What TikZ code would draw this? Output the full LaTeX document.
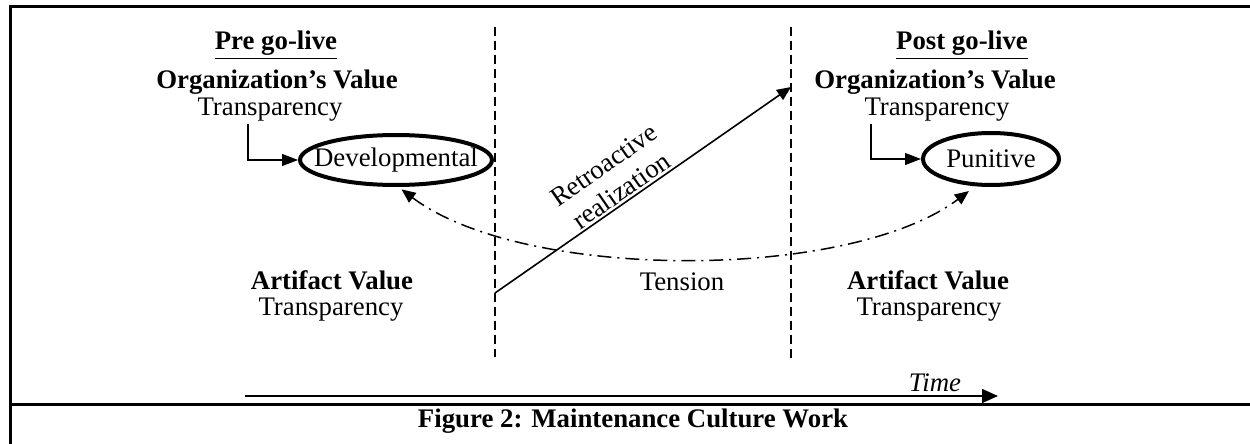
\documentclass[tikz,border=0pt]{standalone}
\usepackage{fontspec}
\setmainfont{Liberation Serif}
\usetikzlibrary{arrows.meta,shapes.geometric}

\begin{document}
\begin{tikzpicture}[x=0.5pt, y=0.5pt,
font=\fontsize{13.4}{15.5}\selectfont,
labelnode/.style={inner sep=1pt},
boldnode/.style={inner sep=1pt, font=\fontsize{13.4}{15.5}\selectfont\bfseries},
valuenode/.style={ellipse, draw, line width=2pt, inner sep=0pt},
elbowarrow/.style={line width=0.6pt, -{Triangle[length=8pt,width=6pt]}},
divider/.style={line width=0.6pt, dash pattern=on 4.5pt off 2.5pt},
tensionline/.style={line width=0.75pt, dash pattern=on 7pt off 3pt on 1pt off 3pt, {Triangle[length=7pt,width=6pt]}-{Triangle[length=7pt,width=6pt]}},
]
\useasboundingbox (0,0) rectangle (1250,-444);

%Frame
\draw[line width=1.5pt] (1250,-7) -| (10,-444);
\draw[line width=1.5pt] (10,-405) -- (1250,-405);

%Nodes
\node[boldnode] (pre)           at (276,-45)  {\underline{Pre go-live}};
\node[boldnode] (org_pre)       at (277,-82)  {Organization’s Value};
\node[labelnode] (trans_pre)    at (270,-110) {Transparency};
\node[valuenode, inner xsep=-7pt, minimum height=25pt] (developmental) at (396,-160) {Developmental};
\node[boldnode] (artifact_pre)  at (332,-280) {Artifact Value};
\node[labelnode] (art_trans_pre) at (331,-310) {Transparency};

\node[boldnode] (post)          at (962,-45)  {\underline{Post go-live}};
\node[boldnode] (org_post)      at (935,-82)  {Organization’s Value};
\node[labelnode] (trans_post)   at (937,-110) {Transparency};
\node[valuenode, minimum width=68pt, minimum height=26pt] (punitive) at (991,-159) {Punitive};
\node[boldnode] (artifact_post) at (928,-280) {Artifact Value};
\node[labelnode] (art_trans_post) at (929,-310) {Transparency};

\node[labelnode] (tension)      at (682,-282) {Tension};
\node[labelnode, font=\fontsize{13.4}{15.5}\selectfont\itshape] (time) at (935,-383) {Time};
\node[boldnode] (caption)       at (633,-421) {Figure 2: Maintenance Culture Work};

%Coordinates
\coordinate (div_pre_top)     at (495,-27);
\coordinate (div_pre_bottom)  at (495,-357);
\coordinate (div_post_top)    at (791,-27);
\coordinate (div_post_bottom) at (791,-363);
\coordinate (retro_start)     at (495,-293);
\coordinate (retro_end)       at (791,-87);
\coordinate (time_start)      at (245,-396);
\coordinate (time_end)        at (998,-396);

%Lines
\draw[divider] (div_pre_top) -- (div_pre_bottom);
\draw[divider] (div_post_top) -- (div_post_bottom);
\draw[elbowarrow] ([xshift=-11pt]trans_pre.south) |- (developmental.west);
\draw[elbowarrow] ([xshift=-33pt]trans_post.south) |- (punitive.west);
\draw[line width=0.8pt, -{Triangle[length=7pt,width=6pt]}] (retro_start) -- (retro_end)
  node[pos=0.45, sloped, above, align=center, inner sep=1pt] {Retroactive\\realization};
\draw[tensionline, shorten <=2pt, shorten >=4pt] (developmental.-85) to[out=-37, in=-143, looseness=0.7] (punitive.-120);
\draw[line width=0.8pt, -{Triangle[length=8pt,width=7pt]}] (time_start) -- (time_end);

\end{tikzpicture}
\end{document}
